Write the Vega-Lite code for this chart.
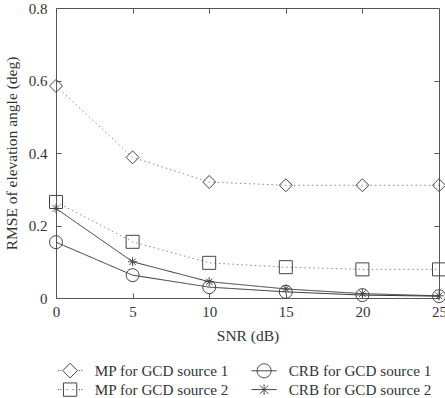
{
  "$schema": "https://vega.github.io/schema/vega-lite/v6.json",
  "width": 383,
  "height": 290,
  "autosize": {"type": "none"},
  "padding": {"left": 56, "top": 8, "right": 6, "bottom": 100},
  "background": "white",
  "data": {
    "values": [
      {"snr": 0, "rmse": 0.585, "series": "MP for GCD source 1"},
      {"snr": 5, "rmse": 0.388, "series": "MP for GCD source 1"},
      {"snr": 10, "rmse": 0.320, "series": "MP for GCD source 1"},
      {"snr": 15, "rmse": 0.311, "series": "MP for GCD source 1"},
      {"snr": 20, "rmse": 0.311, "series": "MP for GCD source 1"},
      {"snr": 25, "rmse": 0.311, "series": "MP for GCD source 1"},
      {"snr": 0, "rmse": 0.265, "series": "MP for GCD source 2"},
      {"snr": 5, "rmse": 0.155, "series": "MP for GCD source 2"},
      {"snr": 10, "rmse": 0.097, "series": "MP for GCD source 2"},
      {"snr": 15, "rmse": 0.085, "series": "MP for GCD source 2"},
      {"snr": 20, "rmse": 0.079, "series": "MP for GCD source 2"},
      {"snr": 25, "rmse": 0.079, "series": "MP for GCD source 2"},
      {"snr": 0, "rmse": 0.154, "series": "CRB for GCD source 1"},
      {"snr": 5, "rmse": 0.063, "series": "CRB for GCD source 1"},
      {"snr": 10, "rmse": 0.030, "series": "CRB for GCD source 1"},
      {"snr": 15, "rmse": 0.017, "series": "CRB for GCD source 1"},
      {"snr": 20, "rmse": 0.008, "series": "CRB for GCD source 1"},
      {"snr": 25, "rmse": 0.005, "series": "CRB for GCD source 1"},
      {"snr": 0, "rmse": 0.247, "series": "CRB for GCD source 2"},
      {"snr": 5, "rmse": 0.100, "series": "CRB for GCD source 2"},
      {"snr": 10, "rmse": 0.045, "series": "CRB for GCD source 2"},
      {"snr": 15, "rmse": 0.025, "series": "CRB for GCD source 2"},
      {"snr": 20, "rmse": 0.012, "series": "CRB for GCD source 2"},
      {"snr": 25, "rmse": 0.006, "series": "CRB for GCD source 2"}
    ]
  },
  "layer": [
    {
      "mark": {"type": "line", "strokeWidth": 1},
      "encoding": {
        "x": {"field": "snr", "type": "quantitative", "scale": {"domain": [0, 25], "nice": false},
          "axis": {"orient": "bottom", "values": [0, 5, 10, 15, 20, 25], "tickSize": -5, "labelPadding": 11, "domain": false, "title": "SNR (dB)", "titlePadding": 9, "labelFlush": false}},
        "y": {"field": "rmse", "type": "quantitative", "scale": {"domain": [0, 0.8], "nice": false},
          "axis": {"orient": "left", "values": [0, 0.2, 0.4, 0.6, 0.8], "format": ".1~f", "tickSize": -5, "labelPadding": 14, "domain": false, "title": "RMSE of elevation angle (deg)", "titlePadding": 9, "labelFlush": false}},
        "detail": {"field": "series"},
        "color": {"field": "series", "type": "nominal", "legend": null,
          "scale": {"domain": ["MP for GCD source 1", "MP for GCD source 2", "CRB for GCD source 1", "CRB for GCD source 2"], "range": ["#888888", "#888888", "#333333", "#333333"]}},
        "strokeDash": {"field": "series", "type": "nominal", "legend": null,
          "scale": {"domain": ["MP for GCD source 1", "MP for GCD source 2", "CRB for GCD source 1", "CRB for GCD source 2"], "range": [[1.5, 3], [1.5, 3], [1, 0], [1, 0]]}}
      }
    },
    {
      "mark": {"type": "point", "filled": false, "color": "#444444", "strokeWidth": 1, "size": 169, "opacity": 1},
      "encoding": {
        "x": {"field": "snr", "type": "quantitative",
          "axis": {"orient": "top", "values": [5, 10, 15, 20], "labels": false, "tickSize": -5, "domain": false, "title": null}},
        "y": {"field": "rmse", "type": "quantitative",
          "axis": {"orient": "right", "values": [0.2, 0.4, 0.6], "labels": false, "tickSize": -5, "domain": false, "title": null}},
        "shape": {"field": "series", "type": "nominal", "legend": null,
          "scale": {"domain": ["MP for GCD source 1", "MP for GCD source 2", "CRB for GCD source 1", "CRB for GCD source 2"],
            "range": ["diamond", "square", "circle", "M-0.7,0H0.7M0,-0.7V0.7M-0.5,-0.5L0.5,0.5M-0.5,0.5L0.5,-0.5"]}}
      }
    },
    {
      "mark": {"type": "point", "filled": false, "color": "#444444", "strokeWidth": 1, "size": 196, "opacity": 0},
      "encoding": {
        "x": {"field": "snr", "type": "quantitative", "axis": null},
        "y": {"field": "rmse", "type": "quantitative", "axis": null},
        "shape": {"field": "series", "type": "nominal",
          "scale": {"domain": ["MP for GCD source 1", "MP for GCD source 2", "CRB for GCD source 1", "CRB for GCD source 2"],
            "range": [
              "M0,-1.05L1.05,0L0,1.05L-1.05,0ZM-1.75,0H-1.6M-1.4,0H-1.25M1.25,0H1.4M1.6,0H1.75",
              "M-0.95,-0.95H0.95V0.95H-0.95ZM-1.75,0H-1.6M-1.4,0H-1.25M-0.5,0H-0.35M0.35,0H0.5M1.25,0H1.4M1.6,0H1.75",
              "M-1,0A1,1 0 1,0 1,0A1,1 0 1,0 -1,0ZM-1.8,0H1.8",
              "M-1.8,0H1.8M0,-0.75V0.75M-0.6,-0.6L0.6,0.6M-0.6,0.6L0.6,-0.6"
            ]},
          "legend": {"orient": "none", "legendX": 6.5, "legendY": 355, "columns": 2, "title": null, "padding": 0,
            "symbolOpacity": 1, "symbolStrokeColor": "#444444", "symbolFillColor": "transparent", "symbolSize": 196, "symbolStrokeWidth": 1,
            "labelFont": "Liberation Serif", "labelFontSize": 15.2, "labelColor": "#333333", "labelOffset": 17, "columnPadding": 20, "rowPadding": 0, "labelLimit": 300}}
      }
    }
  ],
  "resolve": {"scale": {"shape": "independent"}, "axis": {"x": "independent", "y": "independent"}},
  "config": {
    "view": {"stroke": "#555555", "strokeWidth": 1},
    "axis": {"labelFont": "Liberation Serif", "labelFontSize": 15, "labelColor": "#333333", "titleFont": "Liberation Serif", "titleFontSize": 15.5, "titleFontWeight": "normal", "titleColor": "#333333", "tickColor": "#555555", "grid": false}
  }
}
